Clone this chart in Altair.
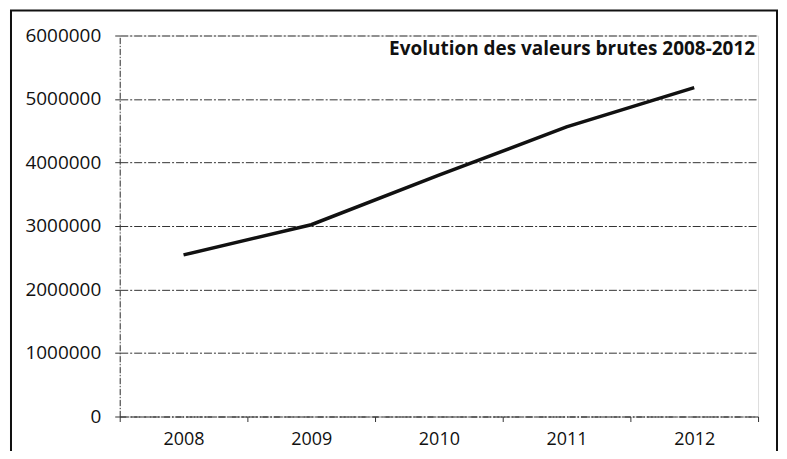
import altair as alt
import pandas as pd

years = ["2008", "2009", "2010", "2011", "2012"]
values = [2545000, 3020000, 3800000, 4560000, 5180000]
title_text = "Evolution des valeurs brutes 2008-2012"
y_ticks = [0, 1000000, 2000000, 3000000, 4000000, 5000000, 6000000]

df = pd.DataFrame({"year": years, "value": values})

FONT = "Open Sans"
W, H = 640, 382

line = alt.Chart(df).mark_line(color="#111111", strokeWidth=3.5).encode(
    x=alt.X(
        "year:O",
        bandPosition=0.5,
        scale=alt.Scale(type="band", paddingInner=0, paddingOuter=0),
        axis=alt.Axis(
            title=None, labelAngle=0, tickBand="extent", labelFont=FONT,
            labelFontSize=18, labelColor="#111111", labelPadding=23,
            labelBaseline="alphabetic",
            domainColor="#333333", domainDash=[6, 2, 1, 2], tickColor="#333333",
            tickSize=5, grid=False,
        ),
    ),
    y=alt.Y(
        "value:Q",
        scale=alt.Scale(domain=[0, 6000000], nice=False),
        axis=alt.Axis(
            title=None, values=y_ticks, format="d", labelFont=FONT,
            labelFontSize=19, labelColor="#111111", labelPadding=14,
            domainColor="#333333", domainDash=[6, 2, 1, 2], tickColor="#333333",
            tickSize=5, grid=True, gridColor="#333333", gridDash=[8, 2, 2, 2],
            gridWidth=1,
        ),
    ),
)

title = alt.Chart(pd.DataFrame({"t": [title_text]})).mark_text(
    align="right", baseline="alphabetic", font=FONT, fontSize=19,
    fontWeight="bold", color="#111111",
).encode(text="t:N", x=alt.value(637), y=alt.value(20))

border = alt.Chart(pd.DataFrame({"t": [0]})).mark_rect(
    filled=False, stroke="#111111", strokeWidth=2
).encode(x=alt.value(-109), x2=alt.value(659), y=alt.value(-25), y2=alt.value(440))

chart = alt.layer(border, line, title).properties(
    width=W, height=H,
    autosize=alt.AutoSizeParams(type="none"),
    padding={"left": 112, "top": 27, "right": 21, "bottom": 34},
).configure_view(stroke=None).configure(background="white")

chart.save("out.html", embed_options={"renderer": "svg", "actions": False})
